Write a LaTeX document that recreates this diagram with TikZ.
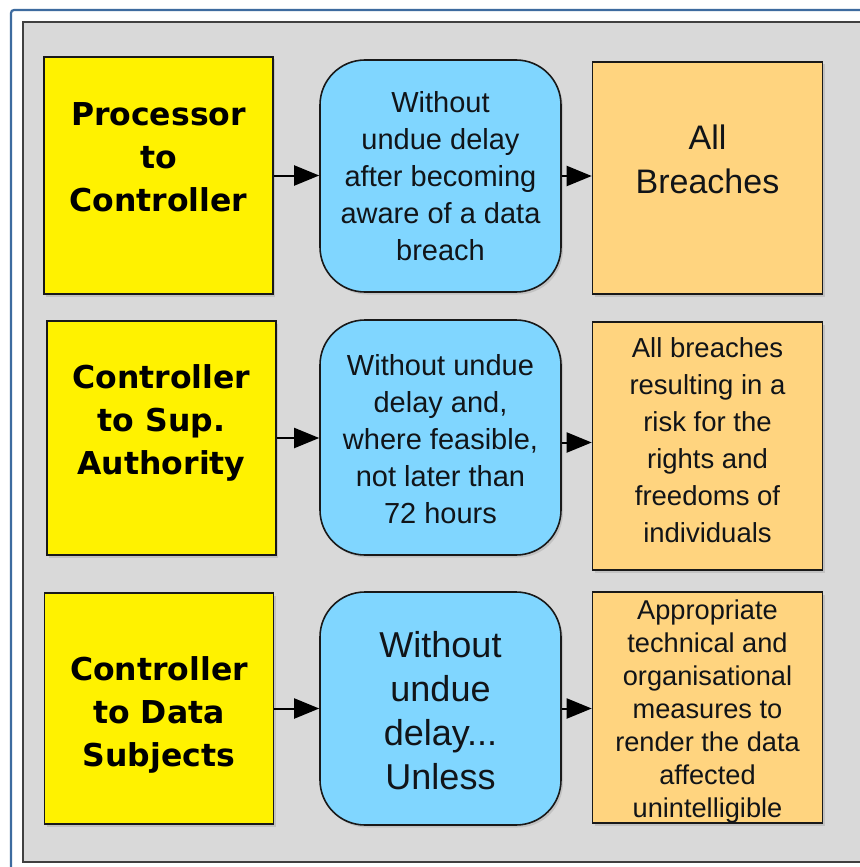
\documentclass[tikz,border=0pt]{standalone}
\usepackage{fontspec}
\setmainfont{Liberation Sans}
\newfontfamily\dvbold{DejaVu Sans}[BoldFont={DejaVu Sans Bold}]
\usetikzlibrary{arrows.meta,shadows}
\definecolor{framec}{HTML}{3D6B9F}
\definecolor{panelc}{HTML}{D9D9D9}
\definecolor{skyc}{HTML}{80D6FF}
\definecolor{orc}{HTML}{FFD47F}
\definecolor{txtc}{HTML}{111418}
\tikzset{
  box/.style={draw=black!90, line width=1.6pt, inner sep=0pt,
    drop shadow={shadow xshift=2pt, shadow yshift=-2.5pt, opacity=0.25}},
  txt/.style={align=center, inner sep=0pt, text=txtc},
  src/.style={box, fill=yellow, minimum width=229pt},
  srctxt/.style={txt, text=black, font=\dvbold\bfseries\fontsize{31.5}{43}\selectfont},
  when/.style={box, fill=skyc, rounded corners=45pt, minimum width=241pt},
  whentxt/.style={txt, font=\fontsize{29}{37}\selectfont},
  what/.style={box, fill=orc, minimum width=230pt},
  whattxt/.style={txt, font=\fontsize{27.5}{37}\selectfont},
  arr/.style={-{Triangle[length=25pt,width=20pt]}, line width=2pt, draw=black}
}
\begin{document}
\begin{tikzpicture}[x=1pt,y=-1pt]
\useasboundingbox (0,0) rectangle (859,867);
\fill[white] (0,0) rectangle (859,867);
\draw[framec, line width=2.2pt, rounded corners=3pt] (11,10) rectangle (880,890);
\draw[fill=panelc, draw=black!75, line width=1.5pt] (23,22) rectangle (880,862);

% row 1
\node[src, minimum height=237pt] (y1) at (158.5,175.5) {};
\node[srctxt] (y1t) at ([yshift=18pt]y1.center) {Processor\\to\\Controller};
\node[when, minimum height=232pt] (b1) at (440.5,176) {};
\node[whentxt] (b1t) at (b1.center) {Without\\undue delay\\after becoming\\aware of a data\\breach};
\node[what, minimum height=232pt] (o1) at (707.5,178) {};
\node[whattxt, font=\fontsize{34}{44}\selectfont] (o1t) at ([yshift=19pt]o1.center) {All\\Breaches};

% row 2
\node[src, minimum height=234pt] (y2) at (161.5,438) {};
\node[srctxt] (y2t) at ([yshift=15pt]y2.center) {Controller\\to Sup.\\Authority};
\node[when, minimum height=235pt] (b2) at (440.5,437.5) {};
\node[whentxt] (b2t) at ([yshift=-2pt]b2.center) {Without undue\\delay and,\\where feasible,\\not later than\\72 hours};
\node[what, minimum height=248pt] (o2) at (707.5,446) {};
\node[whattxt] (o2t) at ([yshift=6pt]o2.center) {All breaches\\resulting in a\\risk for the\\rights and\\freedoms of\\individuals};

% row 3
\node[src, minimum height=231pt] (y3) at (159,708.5) {};
\node[srctxt] (y3t) at ([yshift=-6pt]y3.center) {Controller\\to Data\\Subjects};
\node[when, minimum height=233pt] (b3) at (440.5,708.5) {};
\node[whentxt, font=\fontsize{36}{44}\selectfont] (b3t) at ([yshift=-2pt]b3.center) {Without\\undue\\delay...\\Unless};
\node[what, minimum height=231pt] (o3) at (707.5,707.5) {};
\node[whattxt, font=\fontsize{27.2}{33}\selectfont] (o3t) at ([yshift=-4pt]o3.center) {Appropriate\\technical and\\organisational\\measures to\\render the data\\affected\\unintelligible};

% arrows
\draw[arr] (y1.east) -- (y1.east -| b1.west);
\draw[arr] (b1.east) -- (b1.east -| o1.west);
\draw[arr] (y2.east) -- (y2.east -| b2.west);
\draw[arr] ([yshift=-5pt]b2.east) -- ([yshift=-5pt]b2.east -| o2.west);
\draw[arr] (y3.east) -- (y3.east -| b3.west);
\draw[arr] (b3.east) -- (b3.east -| o3.west);
\end{tikzpicture}
\end{document}
